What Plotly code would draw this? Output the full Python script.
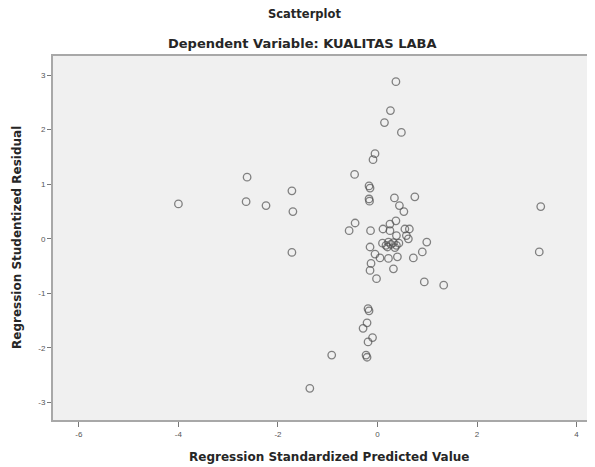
import plotly.graph_objects as go

# Regression Standardized Predicted Value
pred = [-4.00, -2.62, -2.64, -2.24, -1.72, -1.70, -1.72,
        3.28, 3.25, 1.33,
        0.37, 0.26, 0.14, 0.48, -0.05, -0.09, -0.46,
        -0.17, -0.15, -0.17, -0.16, 0.34, 0.75, 0.44, 0.53, 0.37,
        -0.45, -0.57, -0.14, 0.11, 0.25, 0.55, 0.64, 0.58, 0.99,
        0.10, 0.17, 0.22, 0.27, 0.32, 0.38, 0.43, 0.20, 0.35,
        0.25, 0.38, 0.62, -0.15, -0.05, 0.05, 0.22, 0.40, -0.13,
        -0.15, -0.02, 0.32, 0.72, 0.90, 0.94,
        -0.19, -0.17, -0.21, -0.29, -0.10, -0.19, -0.92, -0.23, -0.21, -1.36]

# Regression Studentized Residual
resid = [0.64, 1.13, 0.68, 0.61, 0.88, 0.50, -0.25,
         0.59, -0.24, -0.85,
         2.88, 2.35, 2.13, 1.95, 1.56, 1.45, 1.18,
         0.97, 0.93, 0.73, 0.69, 0.75, 0.77, 0.61, 0.50, 0.33,
         0.29, 0.15, 0.15, 0.18, 0.27, 0.18, 0.18, 0.06, -0.06,
         -0.08, -0.12, -0.06, -0.10, -0.07, -0.12, -0.08, -0.15, -0.16,
         0.15, 0.06, 0.00, -0.15, -0.28, -0.35, -0.36, -0.33, -0.45,
         -0.58, -0.73, -0.55, -0.35, -0.24, -0.79,
         -1.28, -1.32, -1.54, -1.64, -1.81, -1.89, -2.13, -2.13, -2.17, -2.74]

x_ticks = [-6, -4, -2, 0, 2, 4]
y_ticks = [-3, -2, -1, 0, 1, 2, 3]

# the page body has an 8px default margin: the figure starts at (8, 8)
OFF = 8
W, H = 595 - OFF, 467 - OFF
L, R, T, B = 53, 595, 56, 420  # plot area in window pixels

fig = go.Figure()
fig.add_trace(go.Scatter(
    x=pred, y=resid, mode="markers",
    marker=dict(symbol="circle-open", size=7.5,
                color="rgba(80,80,80,0.7)",
                line=dict(width=1.3, color="rgba(80,80,80,0.7)")),
    showlegend=False, hoverinfo="skip",
))

axis_font = dict(family="Arial", size=8, color="#555555")
fig.update_layout(
    width=W, height=H,
    margin=dict(l=L - OFF, r=0, t=T - OFF, b=467 - B),
    paper_bgcolor="white",
    plot_bgcolor="#f0f0f0",
    xaxis=dict(range=[-6.52, 4.37], tickvals=x_ticks,
               ticktext=[str(v) for v in x_ticks],
               showgrid=False, zeroline=False,
               showline=True, linecolor="#a8a8a8", linewidth=2, mirror=True,
               ticks="outside", ticklen=5, tickcolor="#777777", tickwidth=1,
               tickfont=axis_font),
    yaxis=dict(range=[-3.32, 3.35], tickvals=y_ticks,
               ticktext=[str(v) for v in y_ticks],
               showgrid=False, zeroline=False,
               showline=True, linecolor="#a8a8a8", linewidth=2, mirror=False,
               ticks="outside", ticklen=4, tickcolor="#777777", tickwidth=1,
               tickfont=axis_font),
    font=dict(family="DejaVu Sans", color="#222222"),
)

def px(xp):
    return (xp - L) / (R - L)

def py(yp):
    return (B - yp) / (B - T)

anns = [
    dict(text="<b>Scatterplot</b>", x=304, y=14, size=11.5, angle=0),
    dict(text="<b>Dependent Variable: KUALITAS LABA</b>", x=302, y=44, size=13, angle=0),
    dict(text="<b>Regression Standardized Predicted Value</b>", x=329, y=457, size=12, angle=0),
    dict(text="<b>Regression Studentized Residual</b>", x=17, y=238, size=12, angle=-90),
]
for a in anns:
    fig.add_annotation(text=a["text"], x=px(a["x"]), y=py(a["y"]),
                       xref="paper", yref="paper", showarrow=False,
                       textangle=a["angle"],
                       xanchor="center", yanchor="middle",
                       font=dict(family="DejaVu Sans", size=a["size"], color="#262626"))

fig.write_html("out.html")
